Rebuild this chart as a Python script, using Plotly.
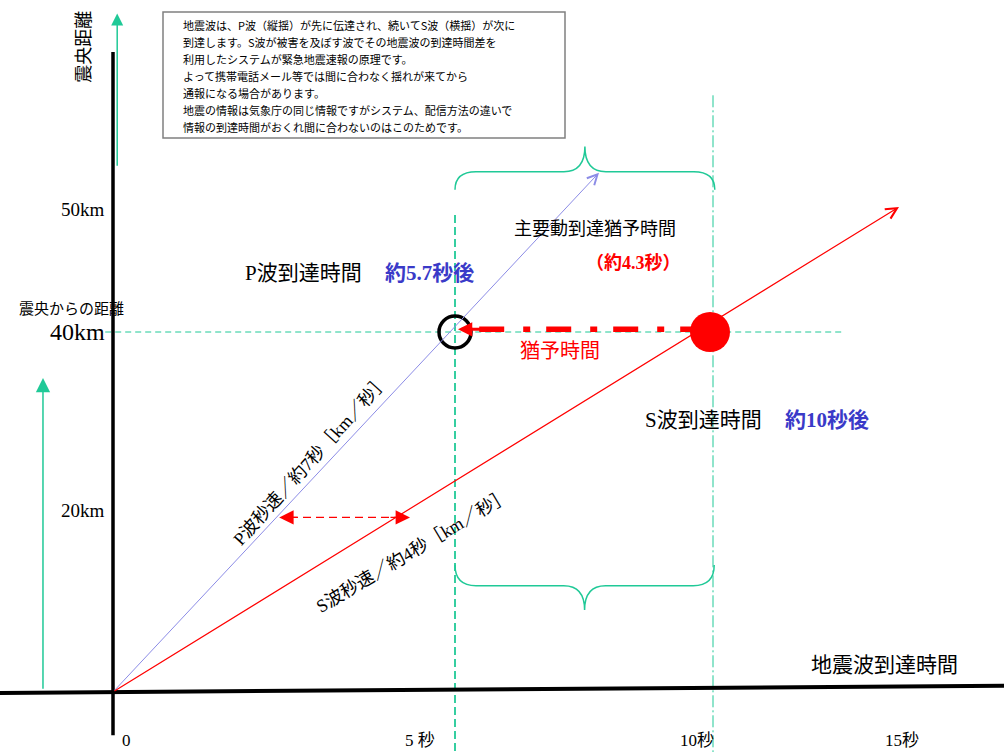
import plotly.graph_objects as go

# 時間 [秒], 距離 [km]
p_arrival = 5.7
s_arrival = 10.0
epi_km = 40

p_wave_t = [0, 8.1]
p_wave_km = [0, 57.7]
s_wave_t = [0, 13.1]
s_wave_km = [0, 53.9]

x_tick_text = ['0', '5 秒', '10秒', '15秒']
x_tick_at = [0.23, 5.12, 9.73, 13.15]
y_tick_text = ['50km', '40km', '20km']
y_tick_at = [53.6, 40, 20.2]

note_lines = [
    '地震波は、P波（縦揺）が先に伝達され、続いてS波（横揺）が次に',
    '到達します。S波が被害を及ぼす波でその地震波の到達時間差を',
    '利用したシステムが緊急地震速報の原理です。',
    'よって携帯電話メール等では間に合わなく揺れが来てから',
    '通報になる場合があります。',
    '地震の情報は気象庁の同じ情報ですがシステム、配信方法の違いで',
    '情報の到達時間がおくれ間に合わないのはこのためです。',
]

TEAL = '#20c997'
BLUE = '#3a3ac8'
PURPLE = '#8c8ce6'
RED = '#ff0000'
SERIF = 'Liberation Serif, Noto Sans CJK JP'
SANS = 'Noto Sans CJK JP'

X0, X1 = -113 / 60, 891 / 60
Y0, Y1 = -60 / 9, 692 / 9

fig = go.Figure()


def seg(x, y, color, width, dash='solid'):
    fig.add_trace(go.Scatter(x=x, y=y, mode='lines', hoverinfo='skip',
                             line=dict(color=color, width=width, dash=dash)))


# guide lines
seg([-0.13, 12.2], [epi_km, epi_km], TEAL, 1, '6px,4px')
seg([p_arrival, p_arrival], [53, Y0], TEAL, 1.8, '8px,4px')
seg([s_arrival, s_arrival], [66.3, Y0], TEAL, 1, '12px,3px,2px,3px')

# axes
seg([0, 0], [71.1, -4.8], 'black', 3.5)
seg([X0, X1], [-0.1, 0.7], 'black', 4)

# 猶予時間 arrow
seg([9.87, 5.95], [40.3, 40.3], RED, 5.5, '25px,16px,7px,19px')
# speed difference arrow
seg([2.95, 4.75], [19.4, 19.4], RED, 1.2, '8px,5px')

# arrival points
fig.add_trace(go.Scatter(x=[p_arrival], y=[epi_km], mode='markers', hoverinfo='skip',
                         marker=dict(symbol='circle-open', size=32, color='black',
                                     line=dict(width=3.5, color='black'))))
fig.add_trace(go.Scatter(x=[s_arrival - 0.05], y=[epi_km], mode='markers', hoverinfo='skip',
                         marker=dict(symbol='circle', size=40, color=RED)))


def brace(t0, t1, d_end, d_bar, d_tip, rx=0.35):
    tm = (t0 + t1) / 2
    return (f'M{t0},{d_end} Q{t0},{d_bar} {t0 + rx},{d_bar} L{tm - rx},{d_bar} '
            f'Q{tm},{d_bar} {tm},{d_tip} Q{tm},{d_bar} {tm + rx},{d_bar} '
            f'L{t1 - rx},{d_bar} Q{t1},{d_bar} {t1},{d_end}')


fig.add_shape(type='path', path=brace(p_arrival, s_arrival + 0.03, 55.8, 57.8, 60.6),
              xref='x', yref='y', line=dict(color=TEAL, width=1.5))
fig.add_shape(type='path', path=brace(p_arrival, s_arrival + 0.02, 14.1, 11.8, 9.1),
              xref='x', yref='y', line=dict(color=TEAL, width=1.5))

# note box
fig.add_shape(type='rect', xref='paper', yref='paper',
              x0=163 / 1004, x1=565 / 1004, y0=1 - 138 / 752, y1=1 - 12 / 752,
              line=dict(color='#808080', width=1.5), fillcolor='white')

ann = []


def arrow(x, y, ax, ay, color, width, head, size):
    ann.append(dict(x=x, y=y, ax=ax, ay=ay, xref='x', yref='y', axref='x', ayref='y',
                    text='', showarrow=True, arrowhead=head, arrowsize=size,
                    arrowwidth=width, arrowcolor=color, standoff=0, startstandoff=0))


def label(x, y, text, size, color='black', family=SERIF, angle=0, xanchor='center',
          xref='x', yref='y'):
    ann.append(dict(x=x, y=y, xref=xref, yref=yref, text=text, showarrow=False,
                    textangle=angle, xanchor=xanchor, yanchor='middle',
                    font=dict(size=size, color=color, family=family)))


# waves
arrow(p_wave_t[1], p_wave_km[1], p_wave_t[0], p_wave_km[0], PURPLE, 1, 5, 2)
arrow(s_wave_t[1], s_wave_km[1], s_wave_t[0], s_wave_km[0], RED, 1.2, 5, 1.8)
# green arrows
arrow(0.07, 75.4, 0.07, 58.3, TEAL, 1.5, 2, 1.6)
arrow(-1.167, 34.9, -1.167, 0.2, TEAL, 1.5, 2, 1.9)
# heads
arrow(5.75, 40.3, 6.2, 40.3, RED, 3, 2, 0.95)
arrow(2.77, 19.4, 3.1, 19.4, RED, 1.2, 2, 2.4)
arrow(4.95, 19.4, 4.6, 19.4, RED, 1.2, 2, 2.4)

for i, line in enumerate(note_lines):
    label(181 / 1004, 1 - (25 + 17 * i) / 752, line, 11, family=SANS, xanchor='left',
          xref='paper', yref='paper')

label(-0.517, 71.7, '震央距離', 18, family=SANS, angle=-90)
for t, y in zip(y_tick_text, y_tick_at):
    label(-0.1, y, t, 24 if t == '40km' else 19, xanchor='right')
label(-0.7, 42.7, '震央からの距離', 15, family=SANS)
for t, x in zip(x_tick_text, x_tick_at):
    label(x, -5.44, t, 17)

label(2.17, 46.6, 'P波到達時間', 21, xanchor='left')
label(4.5, 46.6, f'<b>約{p_arrival}秒後</b>', 21, color=BLUE, xanchor='left')
label(8.83, 30.2, 'S波到達時間', 21, xanchor='left')
label(11.17, 30.2, f'<b>約{s_arrival:.0f}秒後</b>', 21, color=BLUE, xanchor='left')
label(8.03, 51.7, '主要動到達猶予時間', 18, family=SANS)
label(8.68, 47.7, f'<b>（約{s_arrival - p_arrival:.1f}秒）</b>', 18, color=RED)
label(7.45, 38.1, '猶予時間', 20, color=RED, family=SANS)
label(3.3, 25.8, 'P波秒速／約7秒［km／秒］', 18, angle=-48)
label(5.0, 15.7, 'S波秒速／約4秒［km／秒］', 18, angle=-31)
label(12.85, 3.2, '地震波到達時間', 21, family=SANS)

fig.update_layout(
    width=1004, height=752, margin=dict(l=0, r=0, t=0, b=0),
    paper_bgcolor='white', plot_bgcolor='white', showlegend=False,
    xaxis=dict(range=[X0, X1], visible=False, fixedrange=True),
    yaxis=dict(range=[Y0, Y1], visible=False, fixedrange=True),
    annotations=ann,
)

fig.write_html('out.html', config={'displayModeBar': False},
               post_script="document.body.style.margin='0';")
